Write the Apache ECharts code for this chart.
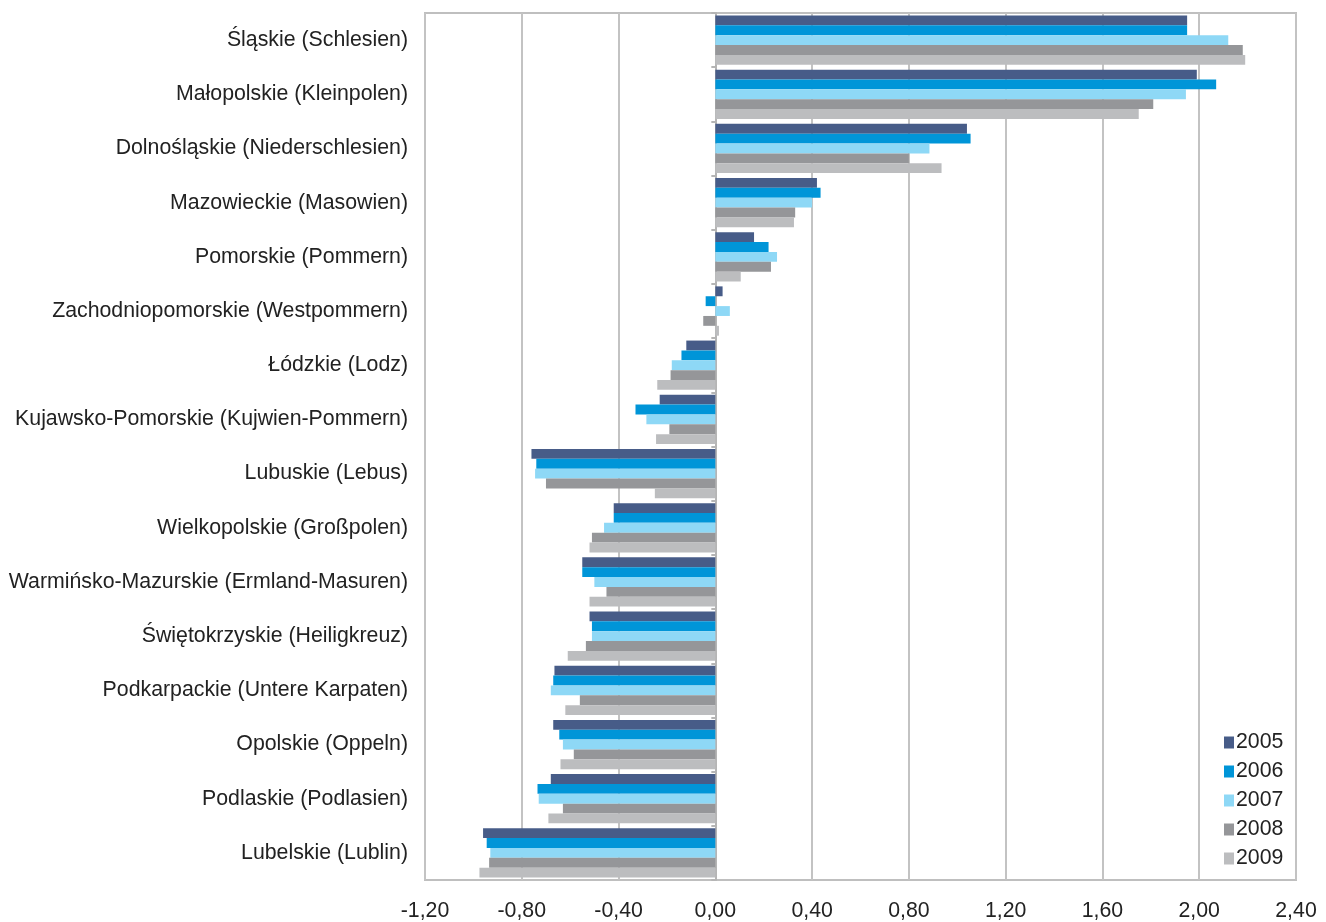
<!DOCTYPE html>
<html>
<head>
<meta charset="utf-8">
<script src="https://cdn.jsdelivr.net/npm/echarts@6/dist/echarts.min.js"></script>
<style>
html,body{margin:0;padding:0;background:#fff;}
#chart{width:1326px;height:922px;}
</style>
</head>
<body>
<div id="chart"></div>
<script>
const categories = [
  'Śląskie (Schlesien)',
  'Małopolskie (Kleinpolen)',
  'Dolnośląskie (Niederschlesien)',
  'Mazowieckie (Masowien)',
  'Pomorskie (Pommern)',
  'Zachodniopomorskie (Westpommern)',
  'Łódzkie (Lodz)',
  'Kujawsko-Pomorskie (Kujwien-Pommern)',
  'Lubuskie (Lebus)',
  'Wielkopolskie (Großpolen)',
  'Warmińsko-Mazurskie (Ermland-Masuren)',
  'Świętokrzyskie (Heiligkreuz)',
  'Podkarpackie (Untere Karpaten)',
  'Opolskie (Oppeln)',
  'Podlaskie (Podlasien)',
  'Lubelskie (Lublin)'
];
const seriesNames = ['2005', '2006', '2007', '2008', '2009'];
const v2005 = [1.95, 1.99, 1.04, 0.42, 0.16, 0.03, -0.12, -0.23, -0.76, -0.42, -0.55, -0.52, -0.665, -0.67, -0.68, -0.96];
const v2006 = [1.95, 2.07, 1.055, 0.435, 0.22, -0.04, -0.14, -0.33, -0.74, -0.42, -0.55, -0.51, -0.67, -0.645, -0.735, -0.945];
const v2007 = [2.12, 1.945, 0.885, 0.40, 0.255, 0.06, -0.18, -0.285, -0.745, -0.46, -0.50, -0.51, -0.68, -0.63, -0.73, -0.93];
const v2008 = [2.18, 1.81, 0.80, 0.33, 0.23, -0.05, -0.185, -0.19, -0.70, -0.51, -0.45, -0.535, -0.56, -0.585, -0.63, -0.935];
const v2009 = [2.19, 1.75, 0.935, 0.325, 0.105, 0.015, -0.24, -0.245, -0.25, -0.52, -0.52, -0.61, -0.62, -0.64, -0.69, -0.975];
const xMin = -1.2, xMax = 2.4, xInterval = 0.4;
const colors = ['#475c88', '#0095d8', '#8ed8f6', '#959699', '#bcbdbf'];

const values = [v2005, v2006, v2007, v2008, v2009];
const FONT = 'Liberation Sans, Arial, sans-serif';
const FS = 21.3;
const chart = echarts.init(document.getElementById('chart'));
chart.setOption({
  animation: false,
  color: colors,
  grid: {
    left: 425, right: 30, top: 13, bottom: 42,
    show: true, borderColor: '#bfbfbf', borderWidth: 2, backgroundColor: 'transparent'
  },
  legend: {
    orient: 'vertical',
    left: 1219, top: 727,
    itemWidth: 10, itemHeight: 12, itemGap: 8,
    icon: 'rect',
    data: seriesNames,
    textStyle: { fontFamily: FONT, fontSize: FS, color: '#222', padding: [0, 0, 0, -3] }
  },
  xAxis: {
    type: 'value',
    min: xMin, max: xMax, interval: xInterval,
    axisLine: { show: false },
    axisTick: { show: false },
    splitLine: { show: true, lineStyle: { color: '#c3c3c3', width: 2 } },
    axisLabel: {
      fontFamily: FONT, fontSize: FS, color: '#222', margin: 21,
      formatter: v => v.toFixed(2).replace('.', ',')
    }
  },
  yAxis: [
    {
      type: 'category', data: categories, inverse: true,
      axisLine: { show: false, onZero: false },
      axisTick: { show: false },
      axisLabel: { fontFamily: FONT, fontSize: FS, color: '#222', margin: 17 }
    },
    {
      type: 'category', data: categories, inverse: true, position: 'right',
      axisLine: { show: true, onZero: true, lineStyle: { color: '#b5b5b5', width: 2 } },
      axisTick: { show: true, inside: true, length: 4, lineStyle: { color: '#b5b5b5', width: 2 } },
      axisLabel: { show: false },
      splitLine: { show: false }
    }
  ],
  series: seriesNames.map((name, i) => ({
    name: name,
    type: 'bar',
    yAxisIndex: 0,
    data: values[i],
    barGap: '0%',
    barCategoryGap: '9%',
    itemStyle: { color: colors[i] }
  }))
});
</script>
</body>
</html>
